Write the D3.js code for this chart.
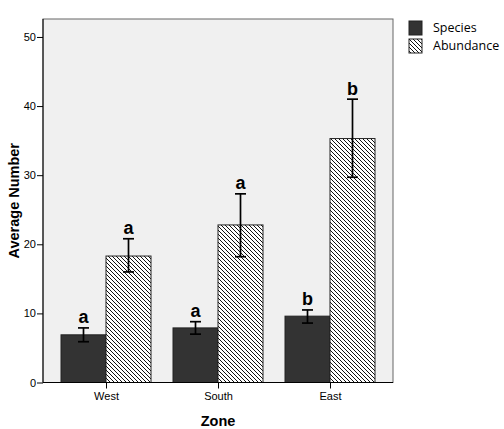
<!DOCTYPE html>
<html>
<head>
<meta charset="utf-8">
<script src="https://cdn.jsdelivr.net/npm/d3@7"></script>
<style>
  body { margin: 0; background: #fff; }
  svg { display: block; }
  .tick text { font-family: "Liberation Sans", Arial, sans-serif; font-size: 11px; fill: #000; }
</style>
</head>
<body>
<svg id="chart" width="504" height="429"></svg>
<script>
const zones = ['West', 'South', 'East']
const species = [6.9, 7.9, 9.6]
const speciesLow = [5.9, 7.0, 8.6]
const speciesHigh = [7.9, 8.8, 10.5]
const abundance = [18.3, 22.8, 35.3]
const abundanceLow = [16.0, 18.2, 29.7]
const abundanceHigh = [20.8, 27.3, 41.0]
const speciesLetters = ['a', 'a', 'b']
const abundanceLetters = ['a', 'a', 'b']
const yTicks = [0, 10, 20, 30, 40, 50]
const seriesNames = ['Species', 'Abundance']

const svg = d3.select('#chart')
const plotL = 43, plotR = 393, plotT = 19, plotB = 382.5
const barW = 45

const x = d3.scalePoint().domain(zones).range([plotL, plotR]).padding(0.5625)
const y = d3.scaleLinear().domain([0, 52.6]).range([plotB, plotT])

// hatch pattern for abundance
const defs = svg.append('defs')
defs.append('pattern')
  .attr('id', 'hatch')
  .attr('patternUnits', 'userSpaceOnUse')
  .attr('width', 4).attr('height', 4)
  .call(p => {
    p.append('rect').attr('width', 4).attr('height', 4).attr('fill', '#fff')
    p.append('path')
      .attr('d', 'M0,0 L4,4 M-1,3 L1,5 M3,-1 L5,1')
      .attr('stroke', '#111').attr('stroke-width', 1)
  })

// plot background
svg.append('rect')
  .attr('x', plotL).attr('y', plotT)
  .attr('width', plotR - plotL).attr('height', plotB - plotT)
  .attr('fill', '#f0f0f0')
  .attr('stroke', '#666').attr('stroke-width', 1)

const series = [
  { key: 'species', values: species, low: speciesLow, high: speciesHigh, letters: speciesLetters, offset: -barW, fill: '#333333' },
  { key: 'abundance', values: abundance, low: abundanceLow, high: abundanceHigh, letters: abundanceLetters, offset: 0, fill: 'url(#hatch)' }
]

series.forEach(s => {
  const g = svg.append('g').attr('class', s.key)
  const cx = d => x(d) + s.offset + barW / 2

  g.selectAll('rect')
    .data(zones)
    .join('rect')
    .attr('x', d => x(d) + s.offset)
    .attr('y', (d, i) => y(s.values[i]))
    .attr('width', barW)
    .attr('height', (d, i) => y(0) - y(s.values[i]))
    .attr('fill', s.fill)
    .attr('stroke', '#222').attr('stroke-width', 1)

  // error bars
  const eb = g.selectAll('g.err')
    .data(zones)
    .join('g').attr('class', 'err')
    .attr('stroke', '#000').attr('stroke-width', 1.7)
  eb.append('line')
    .attr('x1', cx).attr('x2', cx)
    .attr('y1', (d, i) => y(s.low[i])).attr('y2', (d, i) => y(s.high[i]))
  eb.append('line')
    .attr('x1', d => cx(d) - 5.5).attr('x2', d => cx(d) + 5.5)
    .attr('y1', (d, i) => y(s.high[i])).attr('y2', (d, i) => y(s.high[i]))
  eb.append('line')
    .attr('x1', d => cx(d) - 5.5).attr('x2', d => cx(d) + 5.5)
    .attr('y1', (d, i) => y(s.low[i])).attr('y2', (d, i) => y(s.low[i]))

  // significance letters
  g.selectAll('text')
    .data(zones)
    .join('text')
    .attr('x', cx)
    .attr('y', (d, i) => y(s.high[i]) - 4.5)
    .attr('text-anchor', 'middle')
    .attr('font-family', '"Liberation Sans", Arial, sans-serif')
    .attr('font-size', 18).attr('font-weight', 'bold')
    .text((d, i) => s.letters[i])
})

// axes
const yAxis = svg.append('g')
  .attr('transform', `translate(${plotL},0)`)
  .call(d3.axisLeft(y).tickValues(yTicks).tickSize(6).tickPadding(1))
yAxis.select('.domain').attr('stroke', '#000').attr('d', `M0,${plotT}V${plotB}`)

const xAxis = svg.append('g')
  .attr('transform', `translate(0,${plotB})`)
  .call(d3.axisBottom(x).tickSize(6).tickPadding(4))
xAxis.select('.domain').attr('stroke', '#000').attr('d', `M${plotL},0H${plotR}`)

// axis titles
svg.append('text')
  .attr('x', (plotL + plotR) / 2).attr('y', 426)
  .attr('text-anchor', 'middle')
  .attr('font-family', '"Liberation Sans", Arial, sans-serif')
  .attr('font-size', 14.5).attr('font-weight', 'bold')
  .text('Zone')

svg.append('text')
  .attr('transform', `translate(19,${(plotT + plotB) / 2}) rotate(-90)`)
  .attr('text-anchor', 'middle')
  .attr('font-family', '"Liberation Sans", Arial, sans-serif')
  .attr('font-size', 14.5).attr('font-weight', 'bold')
  .text('Average Number')

// legend
const legend = svg.append('g').attr('transform', 'translate(409,21)')
const legendFills = ['#333333', 'url(#hatch)']
seriesNames.forEach((name, i) => {
  const row = legend.append('g').attr('transform', `translate(0,${i * 18})`)
  row.append('rect')
    .attr('width', 13).attr('height', 14)
    .attr('fill', legendFills[i])
    .attr('stroke', '#222').attr('stroke-width', 1)
  row.append('text')
    .attr('x', 24).attr('y', 11)
    .attr('font-family', '"Open Sans", "Noto Sans", sans-serif')
    .attr('font-size', 12.5)
    .text(name)
})
</script>
</body>
</html>
